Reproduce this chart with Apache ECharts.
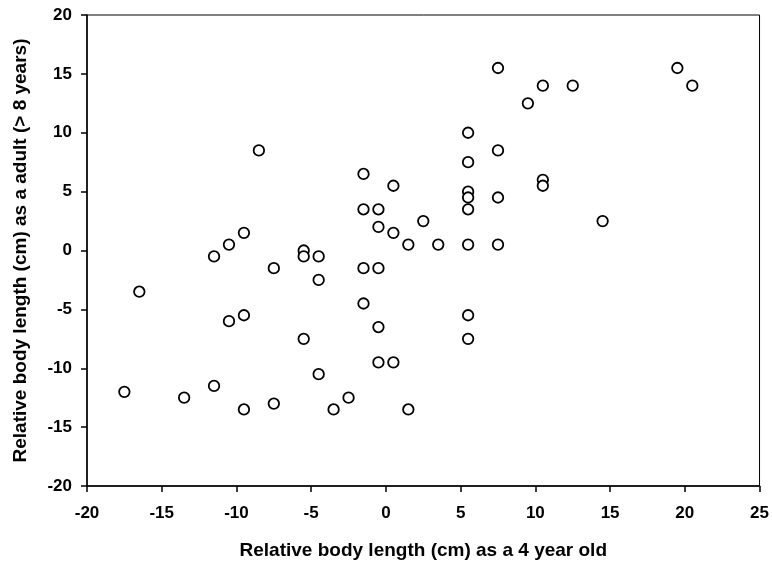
<!DOCTYPE html>
<html><head><meta charset="utf-8">
<script src="https://cdn.jsdelivr.net/npm/echarts@6/dist/echarts.min.js"></script>
<style>html,body{margin:0;padding:0;background:#fff}#c{width:772px;height:565px}</style>
</head><body><div id="c"></div>
<script>
const xValues = [-17.5,-16.5,-13.5,-11.5,-11.5,-10.5,-10.5,-9.5,-9.5,-9.5,-8.5,-7.5,-7.5,-5.5,-5.5,-5.5,-4.5,-4.5,-4.5,-3.5,-2.5,-1.5,-1.5,-1.5,-1.5,-0.5,-0.5,-0.5,-0.5,-0.5,0.5,0.5,0.5,1.5,1.5,2.5,3.5,5.5,5.5,5.5,5.5,5.5,5.5,5.5,5.5,7.5,7.5,7.5,7.5,9.5,10.5,10.5,10.5,12.5,14.5,19.5,20.5];
const yValues = [-12,-3.5,-12.5,-0.5,-11.5,0.5,-6,1.5,-5.5,-13.5,8.5,-1.5,-13,0,-0.5,-7.5,-0.5,-2.5,-10.5,-13.5,-12.5,6.5,3.5,-1.5,-4.5,3.5,2,-1.5,-6.5,-9.5,5.5,1.5,-9.5,0.5,-13.5,2.5,0.5,10,7.5,5,4.5,3.5,0.5,-5.5,-7.5,15.5,8.5,4.5,0.5,12.5,14,6,5.5,14,2.5,15.5,14];
const xTitle = 'Relative body length (cm) as a 4 year old';
const yTitle = 'Relative body length (cm) as a adult (> 8 years)';
const data = xValues.map((x,i)=>[x,yValues[i]]);
const font = 'Liberation Sans, Arial, sans-serif';
const chart = echarts.init(document.getElementById('c'));
chart.setOption({
  animation:false,
  grid:{left:87,right:10,top:15,bottom:79,show:true,borderColor:'#000',borderWidth:1,backgroundColor:'transparent'},
  xAxis:{type:'value',min:-20,max:25,interval:5,
    name:xTitle,nameLocation:'middle',nameGap:55,
    nameTextStyle:{fontFamily:font,fontWeight:'bold',fontSize:19,color:'#000'},
    axisLine:{show:true,onZero:false,lineStyle:{color:'#000',width:1.5}},
    axisTick:{show:true,inside:false,length:6,lineStyle:{color:'#000',width:1.5}},
    axisLabel:{margin:19,fontFamily:font,fontWeight:'bold',fontSize:17,color:'#000'},
    splitLine:{show:false}},
  yAxis:{type:'value',min:-20,max:20,interval:5,
    name:yTitle,nameLocation:'middle',nameGap:57,nameRotate:90,
    nameTextStyle:{fontFamily:font,fontWeight:'bold',fontSize:19,color:'#000'},
    axisLine:{show:true,onZero:false,lineStyle:{color:'#000',width:1.5}},
    axisTick:{show:true,inside:false,length:6,lineStyle:{color:'#000',width:1.5}},
    axisLabel:{margin:15,fontFamily:font,fontWeight:'bold',fontSize:17,color:'#000'},
    splitLine:{show:false}},
  series:[{type:'scatter',data:data,symbol:'circle',symbolSize:10.5,
    itemStyle:{color:'#fff',borderColor:'#000',borderWidth:1.8,opacity:1}}]
});
</script></body></html>
